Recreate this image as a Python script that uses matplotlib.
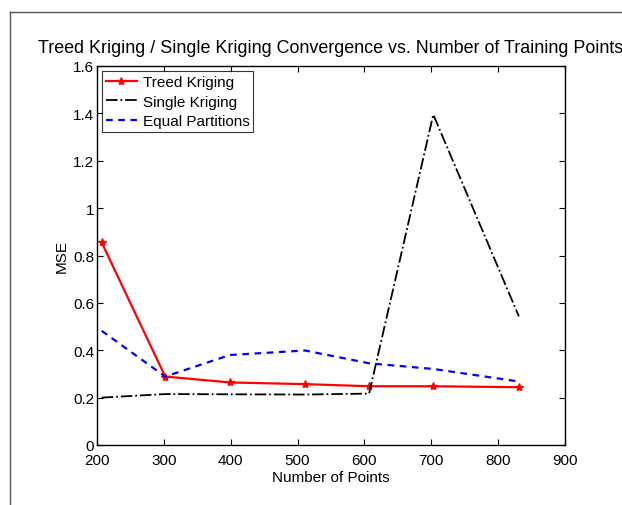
import matplotlib
matplotlib.use("Agg")
import matplotlib.pyplot as plt
from matplotlib.lines import Line2D

plt.rcParams['font.family'] = ['Liberation Sans', 'DejaVu Sans']

# data
n_points = [207, 302, 399, 511, 607, 703, 831]
treed = [0.855, 0.289, 0.264, 0.257, 0.248, 0.248, 0.244]
single = [0.200, 0.215, 0.214, 0.213, 0.217, 1.395, 0.543]
equal = [0.482, 0.289, 0.380, 0.399, 0.345, 0.321, 0.268]

xticks = [200, 300, 400, 500, 600, 700, 800, 900]
yticks = [0, 0.2, 0.4, 0.6, 0.8, 1.0, 1.2, 1.4, 1.6]
ylabels = ['0', '0.2', '0.4', '0.6', '0.8', '1', '1.2', '1.4', '1.6']

W, H = 622, 506
fig = plt.figure(figsize=(W / 100, H / 100), dpi=100)
ax = fig.add_axes([97 / W, 1 - 446 / H, (565 - 97) / W, (446 - 67) / H])

ax.plot(n_points, treed, color='red', lw=1.6, marker='*', ms=6,
        label='Treed Kriging')
ax.plot(n_points, single, color='black', lw=1.3, ls='-.',
        label='Single Kriging')
ax.plot(n_points, equal, color='blue', lw=1.6, ls=(0, (3, 2.5)),
        label='Equal Partitions')

ax.set_xlim(200, 900)
ax.set_ylim(0, 1.6)
ax.set_xticks(xticks)
ax.set_yticks(yticks)
ax.set_yticklabels(ylabels)
ax.tick_params(direction='in', top=True, right=True, labelsize=11,
               length=4, width=0.8, pad=2)
ax.tick_params(axis='x', pad=6)
for s in ax.spines.values():
    s.set_linewidth(1.0)

ax.set_xlabel('Number of Points', fontsize=11, labelpad=2)
ax.set_ylabel('MSE', fontsize=11, labelpad=3)
ax.set_title('Treed Kriging / Single Kriging Convergence vs. Number of Training Points',
             fontsize=12.9, pad=10)

leg = ax.legend(loc='upper left', fontsize=11, frameon=True, fancybox=False,
                borderpad=0.25, labelspacing=0.35, handlelength=2.0,
                handletextpad=0.4, borderaxespad=0.35)
leg.get_frame().set_edgecolor('black')
leg.get_frame().set_linewidth(0.8)

# border of the original figure window
fig.add_artist(Line2D([10 / W, 1], [1 - 13 / H, 1 - 13 / H], color='#555555', lw=1))
fig.add_artist(Line2D([10 / W, 10 / W], [0, 1 - 13 / H], color='#555555', lw=1))

fig.savefig('out.png', dpi=100)
